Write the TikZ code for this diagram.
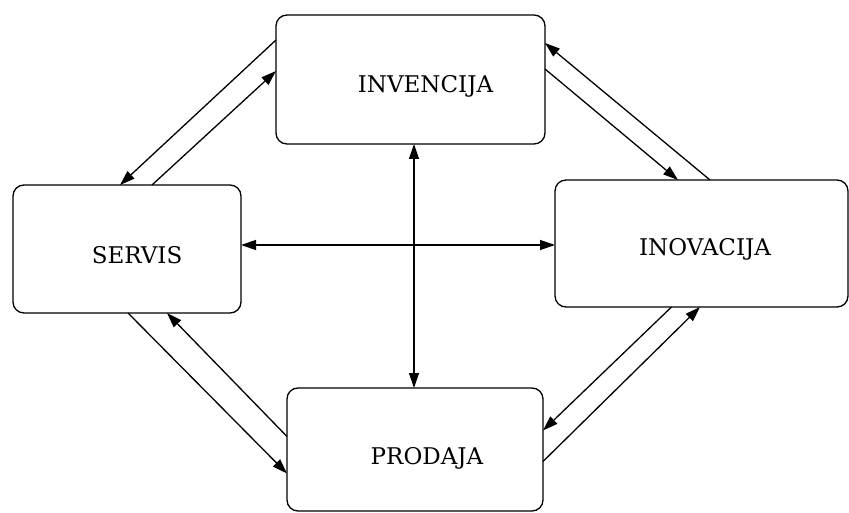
\documentclass[tikz,border=0pt]{standalone}
\usepackage{fontspec}
\setmainfont{DejaVu Serif}
\usetikzlibrary{arrows.meta,calc}
\begin{document}
\begin{tikzpicture}[x=1pt,y=-1pt,
  box/.style={draw, line width=1.3pt, rounded corners=11pt, inner sep=0pt, outer sep=0pt},
  lbl/.style={font=\fontsize{23}{27}\selectfont, inner sep=0pt},
  tip/.tip={Triangle[length=15pt,width=10pt]},
  arr/.style={line width=1.3pt, -tip},
  darr/.style={line width=1.3pt, tip-tip}]
\useasboundingbox (0,0) rectangle (849,513);
% boxes
\node[box, minimum width=269pt, minimum height=129pt] (inv) at (410.5,79.5) {};
\node[box, minimum width=228pt, minimum height=128pt] (serv) at (127,249) {};
\node[box, minimum width=293pt, minimum height=127pt] (inov) at (701.5,243.5) {};
\node[box, minimum width=256pt, minimum height=123pt] (prod) at (415,449.5) {};
% labels
\node[lbl] (tinv) at (425.5,86) {INVENCIJA};
\node[lbl] (tserv) at (137,255) {SERVIS};
\node[lbl] (tinov) at (705,249) {INOVACIJA};
\node[lbl] (tprod) at (427,458) {PRODAJA};
% INVENCIJA <-> SERVIS
\draw[arr] ($(inv.west)+(0,-39.5)$) -- ($(serv.north)+(-7,0)$);
\draw[arr] ($(serv.north)+(25,0)$) -- ($(inv.west)+(0,-8.5)$);
% INVENCIJA <-> INOVACIJA
\draw[arr] ($(inov.north)+(8.5,0)$) -- ($(inv.east)+(0,-36.5)$);
\draw[arr] ($(inv.east)+(0,-10.5)$) -- ($(inov.north)+(-23.5,0)$);
% INOVACIJA <-> PRODAJA
\draw[arr] ($(inov.south)+(-30,0)$) -- ($(prod.east)+(0,-19)$);
\draw[arr] ($(prod.east)+(0,12)$) -- ($(inov.south)+(-1.5,0)$);
% SERVIS <-> PRODAJA
\draw[arr] ($(serv.south)+(1,0)$) -- ($(prod.west)+(0,24)$);
\draw[arr] ($(prod.west)+(0,-13)$) -- ($(serv.south)+(40,0)$);
% centre
\draw[darr] ($(inv.south)+(3.5,0)$) -- ($(prod.north)+(-1,0)$);
\draw[darr] ($(serv.east)+(0,-4)$) -- ($(inov.west)+(0,1.5)$);
\end{tikzpicture}
\end{document}
